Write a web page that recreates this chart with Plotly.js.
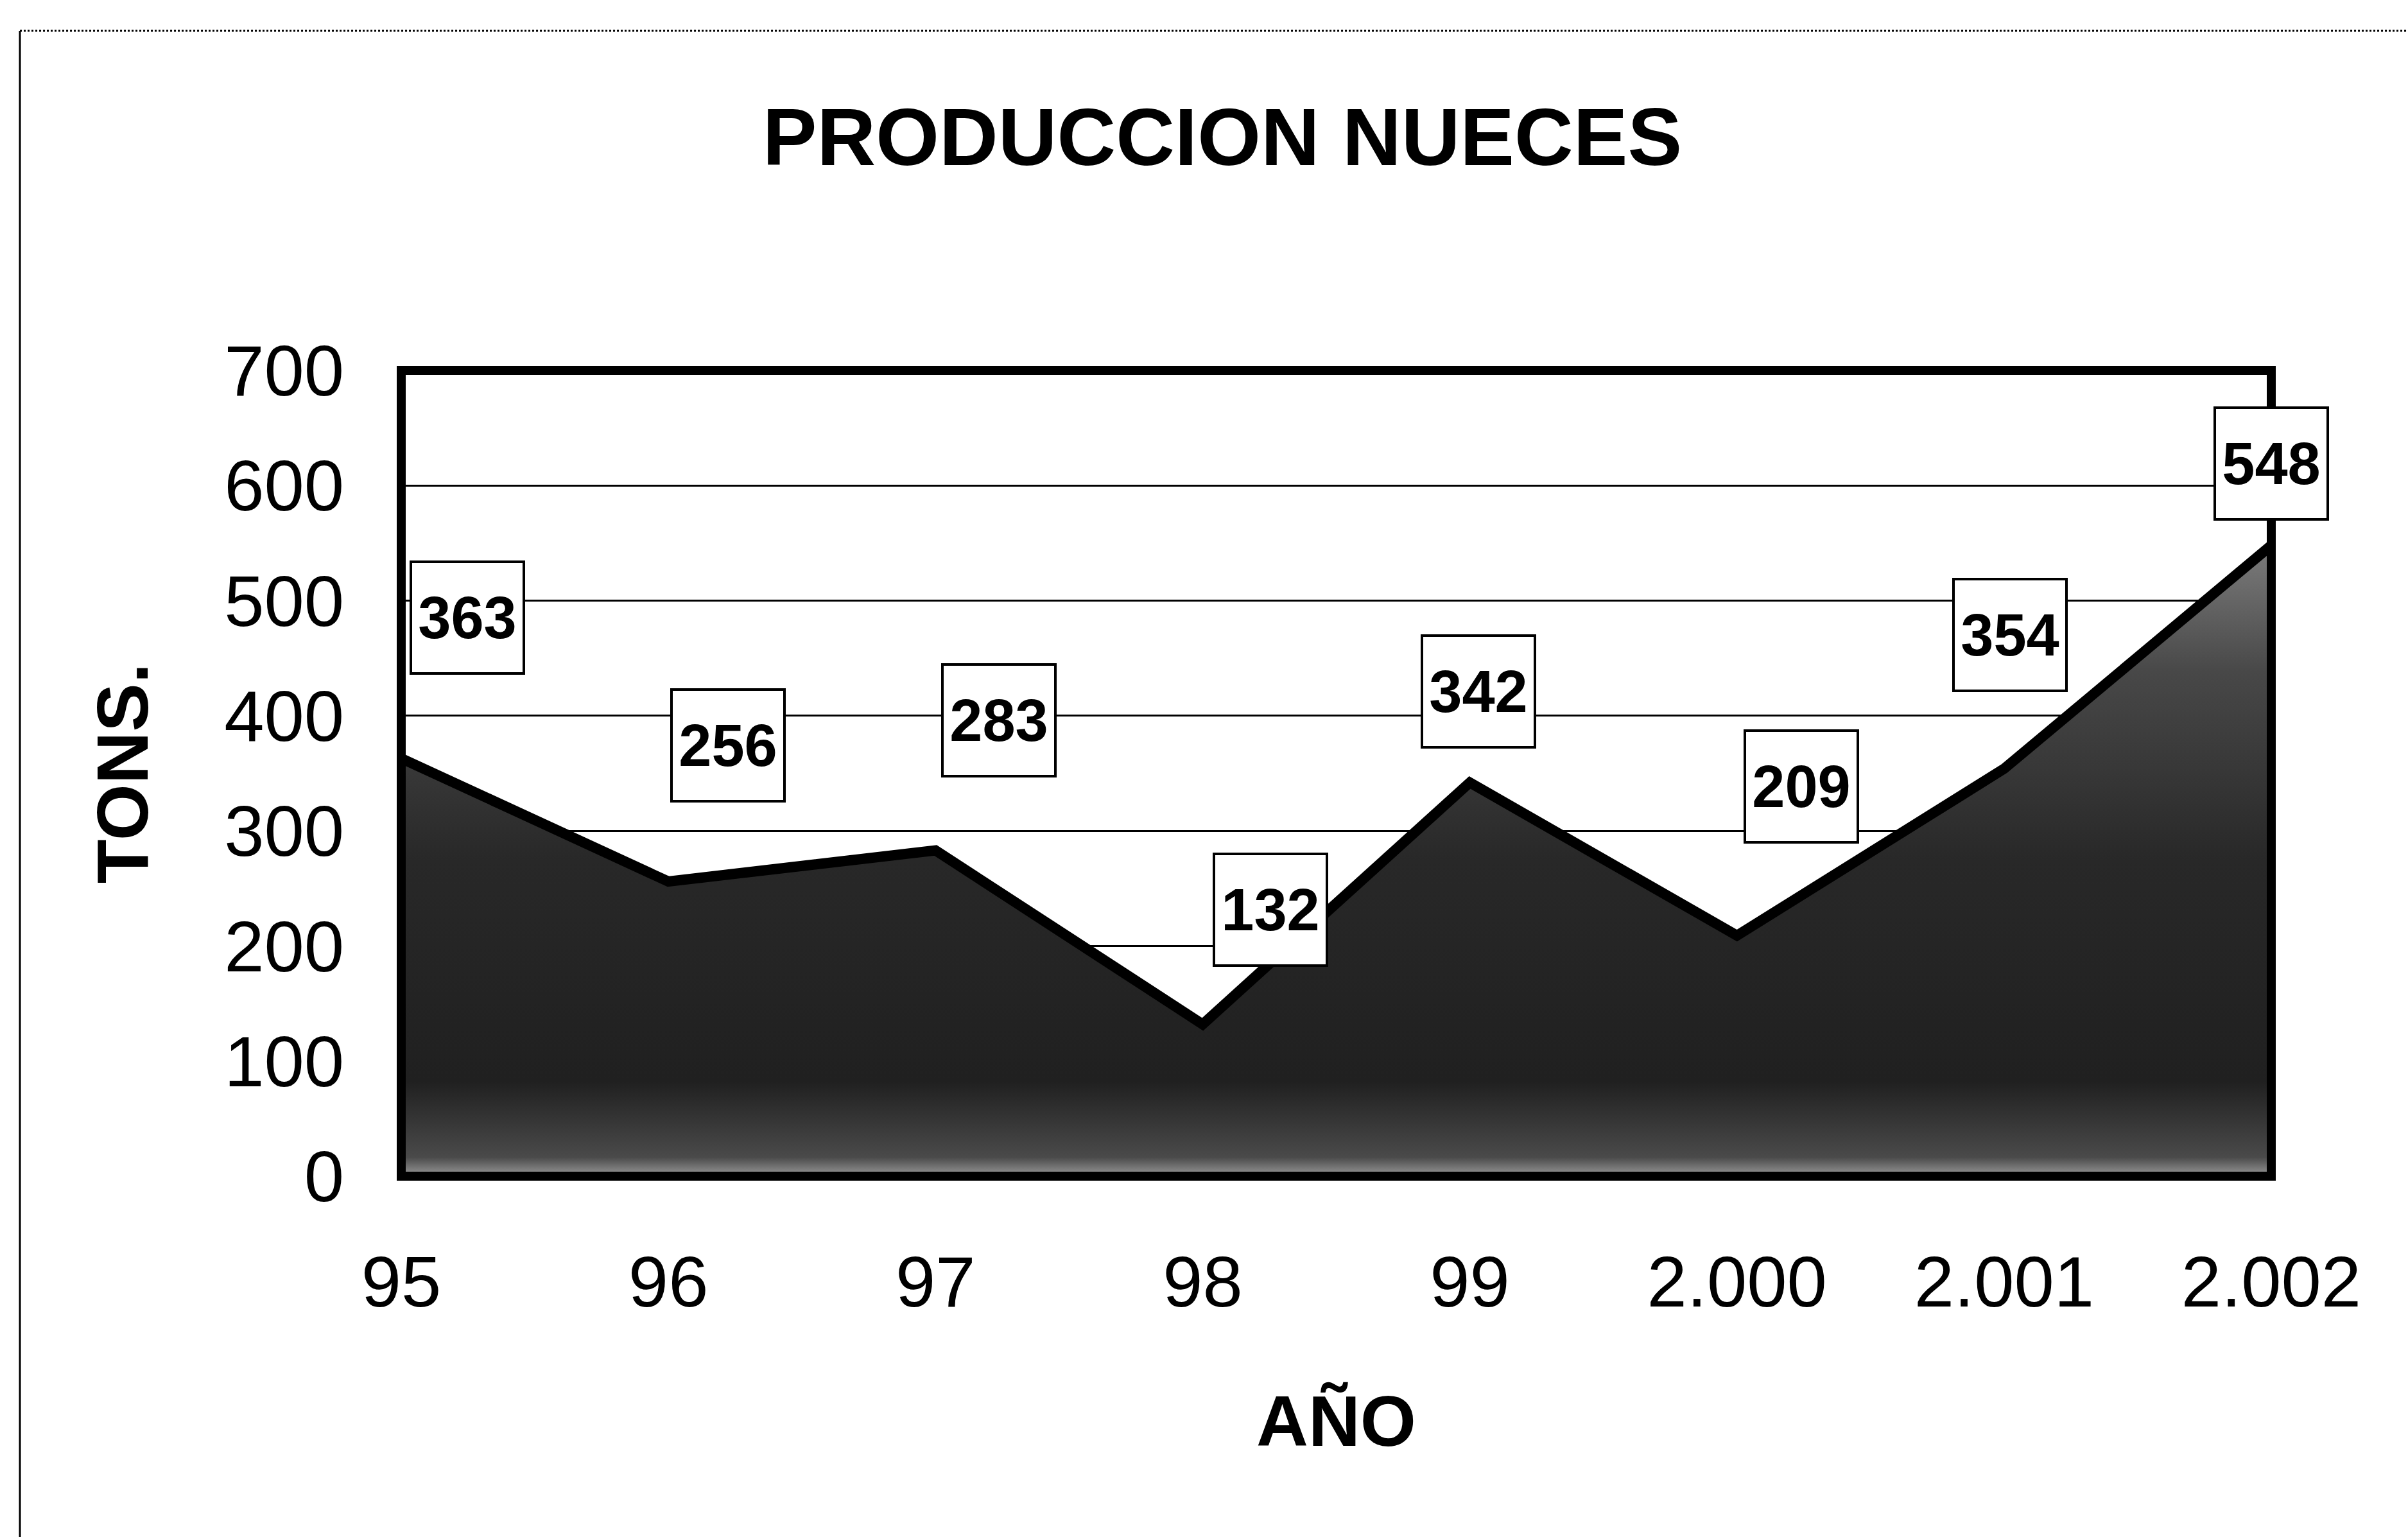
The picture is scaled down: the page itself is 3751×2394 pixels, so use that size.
<!DOCTYPE html>
<html>
<head>
<meta charset="utf-8">
<script src="https://cdn.plot.ly/plotly-3.0.1.min.js"></script>
<style>html,body{margin:0;padding:0;background:#fff;}#chart{width:3751px;height:2394px;}</style>
</head>
<body>
<div id="chart"></div>
<script>
// ---- data ----
const years = ['95', '96', '97', '98', '99', '2.000', '2.001', '2.002'];
const tons = [363, 256, 283, 132, 342, 209, 354, 548];
const yTicks = [0, 100, 200, 300, 400, 500, 600, 700];
const chartTitle = 'PRODUCCION NUECES';
const xTitle = 'AÑO';
const yTitle = 'TONS.';

// ---- label box offsets (px, style only) ----
const labelDx = [103, 93, 99, 106, 13, 100, 9, 0];
const labelDy = [219, 212, 203, 178, 142, 232, 208, 128];

const FONT = 'Liberation Sans, Arial, Helvetica, sans-serif';

const trace = {
  type: 'scatter',
  mode: 'lines',
  x: years,
  y: tons,
  fill: 'tozeroy',
  fillcolor: '#2e2e2e',
  fillgradient: {
    type: 'vertical',
    colorscale: [[0, '#9a9a9a'], [0.03, '#4a4a4a'], [0.15, '#202020'], [0.5, '#282828'], [0.8, '#484848'], [1, '#7c7c7c']]
  },
  line: {color: '#000', width: 16},
  hoverinfo: 'skip',
  showlegend: false
};

// category axis: annotation x given as the category's serial index
const annotations = years.map((yr, i) => ({
  x: i, y: tons[i], xref: 'x', yref: 'y',
  text: '<b>' + tons[i] + '</b>',
  showarrow: false,
  xshift: labelDx[i], yshift: labelDy[i],
  font: {family: FONT, size: 92, color: '#000'},
  bgcolor: '#fff', bordercolor: '#000', borderwidth: 4, borderpad: 4,
  width: 164, height: 162, align: 'center', valign: 'middle'
}));

const layout = {
  width: 3751, height: 2394,
  paper_bgcolor: '#fff', plot_bgcolor: '#fff',
  margin: {l: 625, r: 213, t: 577, b: 562, pad: 0},
  font: {family: FONT, color: '#000'},
  title: {
    text: '<b>' + chartTitle + '</b>',
    font: {family: FONT, size: 127, color: '#000'},
    x: 0.5076, xref: 'container', xanchor: 'center',
    y: 0.9114, yref: 'container', yanchor: 'middle'
  },
  xaxis: {
    type: 'category',
    categoryorder: 'array', categoryarray: years,
    range: [0, years.length - 1],
    showgrid: false, zeroline: false, showline: false,
    ticks: '', ticklabelstandoff: 90,
    tickfont: {family: FONT, size: 112, color: '#000'},
    title: {text: '<b>' + xTitle + '</b>', font: {family: FONT, size: 112, color: '#000'}, standoff: 115},
    fixedrange: true
  },
  yaxis: {
    range: [0, 700],
    tickvals: yTicks,
    showgrid: true, gridcolor: '#000', gridwidth: 3,
    zeroline: false, showline: false,
    ticks: '', ticklabelstandoff: 88,
    tickfont: {family: FONT, size: 112, color: '#000'},
    title: {text: '<b>' + yTitle + '</b>', font: {family: FONT, size: 113, color: '#000'}, standoff: 80},
    fixedrange: true
  },
  shapes: [
    {type: 'rect', xref: 'paper', yref: 'paper', x0: 0, x1: 1, y0: 0, y1: 1,
     line: {color: '#000', width: 14}, layer: 'above'},
    {type: 'line', xref: 'paper', yref: 'paper', x0: -0.2039, x1: -0.2039, y0: -0.45, y1: 1.4215,
     line: {color: '#000', width: 3}},
    {type: 'line', xref: 'paper', yref: 'paper', x0: -0.2039, x1: 1.08, y0: 1.4215, y1: 1.4215,
     line: {color: '#000', width: 3, dash: 'dot'}}
  ],
  annotations: annotations,
  showlegend: false
};

Plotly.newPlot('chart', [trace], layout, {displayModeBar: false, staticPlot: true});
</script>
</body>
</html>
